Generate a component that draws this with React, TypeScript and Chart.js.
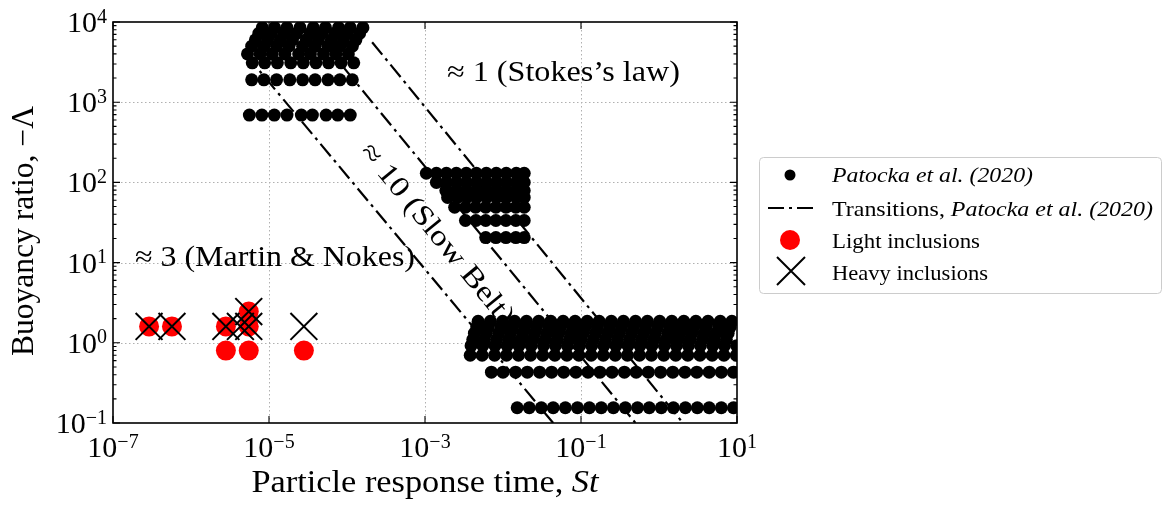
import React, { useEffect, useRef } from 'react';
import { Chart, registerables } from 'chart.js';

Chart.register(...registerables);

const FONT = '"Liberation Serif", "DejaVu Serif", serif';

// ---------- Patocka et al. (2020): rows of constant buoyancy ratio ----------
// Stokes regime (top-left cluster)
const g1Lam = [690, 1900, 3100, 4000, 5000, 6000, 7200, 8500];
const g1St690 = [5.6e-6, 8.1e-6, 1.17e-5, 1.7e-5, 2.6e-5, 3.6e-5, 5.4e-5, 7.6e-5, 1.1e-4];
const g1St1900 = [6.0e-6, 8.6e-6, 1.25e-5, 1.85e-5, 2.7e-5, 3.9e-5, 5.7e-5, 8.1e-5, 1.17e-4];
const g1St3100 = [6.1e-6, 8.8e-6, 1.28e-5, 1.9e-5, 2.75e-5, 4.0e-5, 5.8e-5, 8.4e-5, 1.22e-4];
const g1St4000 = [5.3e-6, 7.7e-6, 1.1e-5, 1.6e-5, 2.4e-5, 3.4e-5, 5.0e-5, 7.2e-5, 1.04e-4];
const g1St5000 = [6.0e-6, 8.6e-6, 1.25e-5, 1.8e-5, 2.7e-5, 3.9e-5, 5.7e-5, 8.1e-5, 1.17e-4];
const g1St6000 = [6.7e-6, 9.6e-6, 1.4e-5, 2.0e-5, 3.0e-5, 4.3e-5, 6.3e-5, 9.0e-5, 1.3e-4];
const g1St7200 = [7.4e-6, 1.07e-5, 1.55e-5, 2.25e-5, 3.35e-5, 4.8e-5, 7.0e-5, 1.0e-4, 1.45e-4];
const g1St8500 = [8.2e-6, 1.18e-5, 1.7e-5, 2.5e-5, 3.7e-5, 5.3e-5, 7.8e-5, 1.1e-4, 1.6e-4];

// Slow-belt regime (middle cluster)
const g2Lam = [130, 100, 79, 65, 49, 33.5, 20.5];
const g2St130 = [1.04e-3, 1.4e-3, 1.88e-3, 2.52e-3, 3.38e-3, 4.55e-3, 6.11e-3, 8.2e-3, 1.1e-2, 1.48e-2, 1.87e-2];
const g2St100 = [1.4e-3, 1.88e-3, 2.52e-3, 3.38e-3, 4.55e-3, 6.11e-3, 8.2e-3, 1.1e-2, 1.48e-2, 1.87e-2];
const g2St79 = [1.85e-3, 2.5e-3, 3.35e-3, 4.5e-3, 6.0e-3, 8.1e-3, 1.09e-2, 1.46e-2, 1.87e-2];
const g2St65 = [1.95e-3, 2.6e-3, 3.45e-3, 4.6e-3, 6.2e-3, 8.3e-3, 1.11e-2, 1.48e-2, 1.87e-2];
const g2St49 = [2.4e-3, 3.3e-3, 4.45e-3, 6.0e-3, 8.1e-3, 1.09e-2, 1.46e-2, 1.87e-2];
const g2St33 = [3.3e-3, 4.5e-3, 6.0e-3, 8.1e-3, 1.09e-2, 1.46e-2, 1.87e-2];
const g2St20 = [6.0e-3, 8.1e-3, 1.09e-2, 1.46e-2, 1.87e-2];

// Martin & Nokes regime (bottom-right band)
const g3Lam = [1.85, 1.58, 1.32, 1.1, 0.92, 0.7, 0.43, 0.155];
const g3St185 = [4.8e-3, 6.9e-3, 9.9e-3, 1.41e-2, 2.0e-2, 2.87e-2, 4.1e-2, 5.9e-2, 8.4e-2, 0.12, 0.171, 0.245, 0.35, 0.5, 0.71, 1.02, 1.46, 2.08, 2.97, 4.25, 6.1, 8.6];
const g3St158 = [4.6e-3, 6.5e-3, 9.4e-3, 1.33e-2, 1.9e-2, 2.7e-2, 3.9e-2, 5.5e-2, 7.9e-2, 0.113, 0.162, 0.232, 0.33, 0.47, 0.67, 0.96, 1.38, 1.97, 2.8, 4.0, 5.8, 8.2];
const g3St132 = [4.3e-3, 6.1e-3, 8.8e-3, 1.25e-2, 1.79e-2, 2.55e-2, 3.66e-2, 5.2e-2, 7.5e-2, 0.106, 0.153, 0.218, 0.31, 0.445, 0.635, 0.9, 1.3, 1.85, 2.64, 3.8, 5.4, 7.7];
const g3St110 = [4.1e-3, 5.8e-3, 8.3e-3, 1.19e-2, 1.7e-2, 2.42e-2, 3.47e-2, 4.95e-2, 7.1e-2, 0.1, 0.144, 0.206, 0.294, 0.42, 0.6, 0.86, 1.23, 1.75, 2.5, 3.6, 5.1, 7.3];
const g3St092 = [3.9e-3, 5.5e-3, 7.9e-3, 1.13e-2, 1.6e-2, 2.3e-2, 3.3e-2, 4.7e-2, 6.7e-2, 9.6e-2, 0.137, 0.196, 0.28, 0.4, 0.57, 0.81, 1.17, 1.67, 2.38, 3.4, 4.9, 6.9, 9.9];
const g3St070 = [3.8e-3, 5.4e-3, 7.8e-3, 1.11e-2, 1.58e-2, 2.26e-2, 3.24e-2, 4.62e-2, 6.6e-2, 9.4e-2, 0.135, 0.193, 0.275, 0.394, 0.562, 0.8, 1.15, 1.64, 2.34, 3.35, 4.8, 6.8, 9.8];
const g3St043 = [7.1e-3, 1.0e-2, 1.45e-2, 2.05e-2, 2.95e-2, 4.2e-2, 6.0e-2, 8.6e-2, 0.123, 0.175, 0.25, 0.36, 0.51, 0.73, 1.05, 1.5, 2.15, 3.05, 4.4, 6.3, 9.0];
const g3St0155 = [1.52e-2, 2.17e-2, 3.1e-2, 4.4e-2, 6.3e-2, 9.0e-2, 0.128, 0.182, 0.26, 0.37, 0.53, 0.75, 1.07, 1.53, 2.18, 3.1, 4.4, 6.3, 9.0];

// ---------- transitions (dash-dot lines) ----------
const tr1St = [5.1e-6, 0.044];
const tr1Lam = [3900, 0.1];
const tr2St = [9.2e-5, 0.5];
const tr2Lam = [2660, 0.1];
const tr3St = [2.1e-4, 2.03];
const tr3Lam = [5600, 0.1];

// ---------- inclusions ----------
const lightSt = [2.9e-7, 5.7e-7, 2.8e-6, 5.5e-6, 5.5e-6, 2.8e-6, 5.5e-6, 2.8e-5];
const lightLam = [1.6, 1.6, 1.6, 1.6, 2.45, 0.8, 0.8, 0.8];
const heavySt = [2.9e-7, 5.7e-7, 2.8e-6, 4.3e-6, 5.5e-6, 5.5e-6, 2.8e-5];
const heavyLam = [1.6, 1.6, 1.6, 1.6, 1.6, 2.45, 1.6];

// ---------- axes ----------
const xMin = 1e-7;
const xMax = 1e1;
const yMin = 1e-1;
const yMax = 1e4;
const xTickVals = [1e-7, 1e-5, 1e-3, 1e-1, 1e1];
const xTickExp = ['\u22127', '\u22125', '\u22123', '\u22121', '1'];
const yTickVals = [1e-1, 1e0, 1e1, 1e2, 1e3, 1e4];
const yTickExp = ['\u22121', '0', '1', '2', '3', '4'];
const xGridVals = [1e-5, 1e-3, 1e-1];
const yGridVals = [1e0, 1e1, 1e2, 1e3];
const yDecades = [1e-1, 1e0, 1e1, 1e2, 1e3];
const yMinorMult = [2, 3, 4, 5, 6, 7, 8, 9];

const patockaRows: [number, number[]][] = [
  [g1Lam[0], g1St690], [g1Lam[1], g1St1900], [g1Lam[2], g1St3100], [g1Lam[3], g1St4000],
  [g1Lam[4], g1St5000], [g1Lam[5], g1St6000], [g1Lam[6], g1St7200], [g1Lam[7], g1St8500],
  [g2Lam[0], g2St130], [g2Lam[1], g2St100], [g2Lam[2], g2St79], [g2Lam[3], g2St65],
  [g2Lam[4], g2St49], [g2Lam[5], g2St33], [g2Lam[6], g2St20],
  [g3Lam[0], g3St185], [g3Lam[1], g3St158], [g3Lam[2], g3St132], [g3Lam[3], g3St110],
  [g3Lam[4], g3St092], [g3Lam[5], g3St070], [g3Lam[6], g3St043], [g3Lam[7], g3St0155],
];

const pts = (xs: number[], ys: number[]) => xs.map((x, i) => ({ x, y: ys[i] }));
const patockaPts = patockaRows.flatMap(([lam, sts]) => sts.map((x) => ({ x, y: lam })));

type Seg = { t: string; size: number; italic?: boolean; dy?: number };
const fontOf = (s: Seg) => `${s.italic ? 'italic ' : ''}${s.size}px ${FONT}`;

function naturalWidth(ctx: CanvasRenderingContext2D, segs: Seg[]) {
  let w = 0;
  for (const s of segs) {
    ctx.font = fontOf(s);
    w += ctx.measureText(s.t).width;
  }
  return w;
}

function drawRich(
  ctx: CanvasRenderingContext2D,
  segs: Seg[],
  x: number,
  y: number,
  opts: { align?: 'left' | 'center' | 'right'; width?: number; sx?: number; rot?: number; by?: number } = {}
) {
  const nat = naturalWidth(ctx, segs);
  const sx = opts.width ? opts.width / nat : opts.sx ?? 1;
  const w = nat * sx;
  const align = opts.align ?? 'left';
  ctx.save();
  ctx.translate(x, y);
  if (opts.rot) ctx.rotate(opts.rot);
  ctx.translate(align === 'left' ? 0 : align === 'center' ? -w / 2 : -w, opts.by ?? 0);
  ctx.scale(sx, 1);
  ctx.textAlign = 'left';
  ctx.textBaseline = 'alphabetic';
  ctx.fillStyle = '#000';
  let cx = 0;
  for (const s of segs) {
    ctx.font = fontOf(s);
    ctx.fillText(s.t, cx, -(s.dy ?? 0));
    cx += ctx.measureText(s.t).width;
  }
  ctx.restore();
}

const DASH = [16, 5, 3, 5];

const decor = {
  id: 'decor',
  beforeDatasetsDraw(chart: any) {
    const { ctx, chartArea: a, scales } = chart;
    const xs = scales.x;
    const ys = scales.y;
    ctx.save();
    ctx.strokeStyle = '#b0b0b0';
    ctx.lineWidth = 1;
    ctx.setLineDash([1.5, 2.5]);
    for (const v of xGridVals) {
      const px = Math.round(xs.getPixelForValue(v)) + 0.5;
      ctx.beginPath();
      ctx.moveTo(px, a.top);
      ctx.lineTo(px, a.bottom);
      ctx.stroke();
    }
    for (const v of yGridVals) {
      const py = Math.round(ys.getPixelForValue(v)) + 0.5;
      ctx.beginPath();
      ctx.moveTo(a.left, py);
      ctx.lineTo(a.right, py);
      ctx.stroke();
    }
    ctx.restore();
  },
  afterDatasetsDraw(chart: any) {
    const { ctx, chartArea: a, scales } = chart;
    const xs = scales.x;
    const ys = scales.y;
    ctx.save();
    // ticks
    ctx.strokeStyle = '#000';
    ctx.lineWidth = 1.1;
    ctx.setLineDash([]);
    ctx.beginPath();
    for (const v of xTickVals) {
      const px = xs.getPixelForValue(v);
      ctx.moveTo(px, a.bottom);
      ctx.lineTo(px, a.bottom - 7);
      ctx.moveTo(px, a.top);
      ctx.lineTo(px, a.top + 7);
    }
    for (const v of yTickVals) {
      const py = ys.getPixelForValue(v);
      ctx.moveTo(a.left, py);
      ctx.lineTo(a.left + 7, py);
      ctx.moveTo(a.right, py);
      ctx.lineTo(a.right - 7, py);
    }
    for (const d of yDecades) {
      for (const m of yMinorMult) {
        const py = ys.getPixelForValue(d * m);
        ctx.moveTo(a.left, py);
        ctx.lineTo(a.left + 3.5, py);
        ctx.moveTo(a.right, py);
        ctx.lineTo(a.right - 3.5, py);
      }
    }
    ctx.stroke();
    // frame
    ctx.lineWidth = 1.6;
    ctx.strokeRect(a.left, a.top, a.right - a.left, a.bottom - a.top);
    ctx.restore();

    // tick labels
    xTickVals.forEach((v, i) => {
      const px = xs.getPixelForValue(v);
      drawRich(ctx, [{ t: '10', size: 30 }, { t: xTickExp[i], size: 20, dy: 9.5 }], px, a.bottom + 34, { align: 'center' });
    });
    yTickVals.forEach((v, i) => {
      const py = ys.getPixelForValue(v);
      drawRich(ctx, [{ t: '10', size: 30 }, { t: yTickExp[i], size: 20, dy: 9.5 }], a.left - 6, py + 10, { align: 'right' });
    });

    // axis titles
    drawRich(ctx, [{ t: 'Particle response time, ', size: 31 }, { t: 'St', size: 31, italic: true }], (a.left + a.right) / 2, 492, { align: 'center', width: 347 });
    drawRich(ctx, [{ t: 'Buoyancy ratio, \u2212\u039B', size: 31 }], 33, 231, { align: 'center', width: 250, rot: -Math.PI / 2 });

    // regime annotations
    drawRich(ctx, [{ t: '\u2248 1 (Stokes\u2019s law)', size: 29 }], 447, 81, { width: 233 });
    drawRich(ctx, [{ t: '\u2248 3 (Martin & Nokes)', size: 29 }], 135, 266, { width: 280 });
    drawRich(ctx, [{ t: '\u2248 10 (Slow Belt)', size: 29 }], 436, 235, { align: 'center', width: 226, rot: (50.5 * Math.PI) / 180, by: 7 });

    // legend
    const L = 759.5, T = 157.5, R = 1161.5, B = 293.5, r = 4;
    ctx.save();
    ctx.beginPath();
    ctx.moveTo(L + r, T);
    ctx.arcTo(R, T, R, B, r);
    ctx.arcTo(R, B, L, B, r);
    ctx.arcTo(L, B, L, T, r);
    ctx.arcTo(L, T, R, T, r);
    ctx.closePath();
    ctx.fillStyle = 'rgba(255,255,255,0.85)';
    ctx.fill();
    ctx.strokeStyle = '#cccccc';
    ctx.lineWidth = 1;
    ctx.stroke();
    // markers
    ctx.fillStyle = '#000';
    ctx.beginPath();
    ctx.arc(790, 175, 5.5, 0, Math.PI * 2);
    ctx.fill();
    ctx.strokeStyle = '#000';
    ctx.lineWidth = 2.2;
    ctx.setLineDash(DASH);
    ctx.beginPath();
    ctx.moveTo(768, 208);
    ctx.lineTo(813, 208);
    ctx.stroke();
    ctx.setLineDash([]);
    ctx.fillStyle = '#ff0000';
    ctx.beginPath();
    ctx.arc(790, 240, 10, 0, Math.PI * 2);
    ctx.fill();
    ctx.lineWidth = 2;
    ctx.beginPath();
    ctx.moveTo(777, 257);
    ctx.lineTo(805, 285);
    ctx.moveTo(805, 257);
    ctx.lineTo(777, 285);
    ctx.stroke();
    ctx.restore();
    drawRich(ctx, [{ t: 'Patocka et al. (2020)', size: 21, italic: true }], 832, 181.5, { width: 201 });
    drawRich(ctx, [{ t: 'Transitions, ', size: 21 }, { t: 'Patocka et al. (2020)', size: 21, italic: true }], 832, 216, { width: 321 });
    drawRich(ctx, [{ t: 'Light inclusions', size: 21 }], 832, 248, { width: 148 });
    drawRich(ctx, [{ t: 'Heavy inclusions', size: 21 }], 832, 279.5, { width: 156 });
  },
};

const lineDs = (xs: number[], ys: number[]) => ({
  label: 'Transitions, Patocka et al. (2020)',
  data: pts(xs, ys),
  showLine: true,
  borderColor: '#000',
  borderWidth: 2.2,
  borderDash: DASH,
  pointRadius: 0,
  fill: false,
});

export default function App() {
  const ref = useRef<HTMLCanvasElement>(null);
  useEffect(() => {
    if (!ref.current) return;
    const chart = new Chart(ref.current, {
      type: 'scatter',
      data: {
        datasets: [
          {
            label: 'Heavy inclusions',
            data: pts(heavySt, heavyLam),
            pointStyle: 'crossRot',
            pointRadius: 19,
            borderColor: '#000',
            backgroundColor: 'rgba(0,0,0,0)',
            borderWidth: 2,
          } as any,
          {
            label: 'Light inclusions',
            data: pts(lightSt, lightLam),
            pointRadius: 10,
            backgroundColor: '#ff0000',
            borderWidth: 0,
          },
          {
            label: 'Patocka et al. (2020)',
            data: patockaPts,
            pointRadius: 6.5,
            backgroundColor: '#000',
            borderWidth: 0,
          },
          lineDs(tr1St, tr1Lam) as any,
          lineDs(tr2St, tr2Lam) as any,
          lineDs(tr3St, tr3Lam) as any,
        ],
      },
      options: {
        animation: false,
        responsive: false,
        events: [],
        layout: { padding: { left: 113, top: 22, right: 427, bottom: 84 } },
        scales: {
          x: { type: 'logarithmic', min: xMin, max: xMax, display: false },
          y: { type: 'logarithmic', min: yMin, max: yMax, display: false },
        },
        plugins: { legend: { display: false }, tooltip: { enabled: false } },
      },
      plugins: [decor],
    });
    return () => chart.destroy();
  }, []);
  return (
    <div style={{ position: 'absolute', left: 0, top: 0, width: 1164, height: 507, background: '#fff' }}>
      <canvas ref={ref} width={1164} height={507} style={{ display: 'block' }} />
    </div>
  );
}
